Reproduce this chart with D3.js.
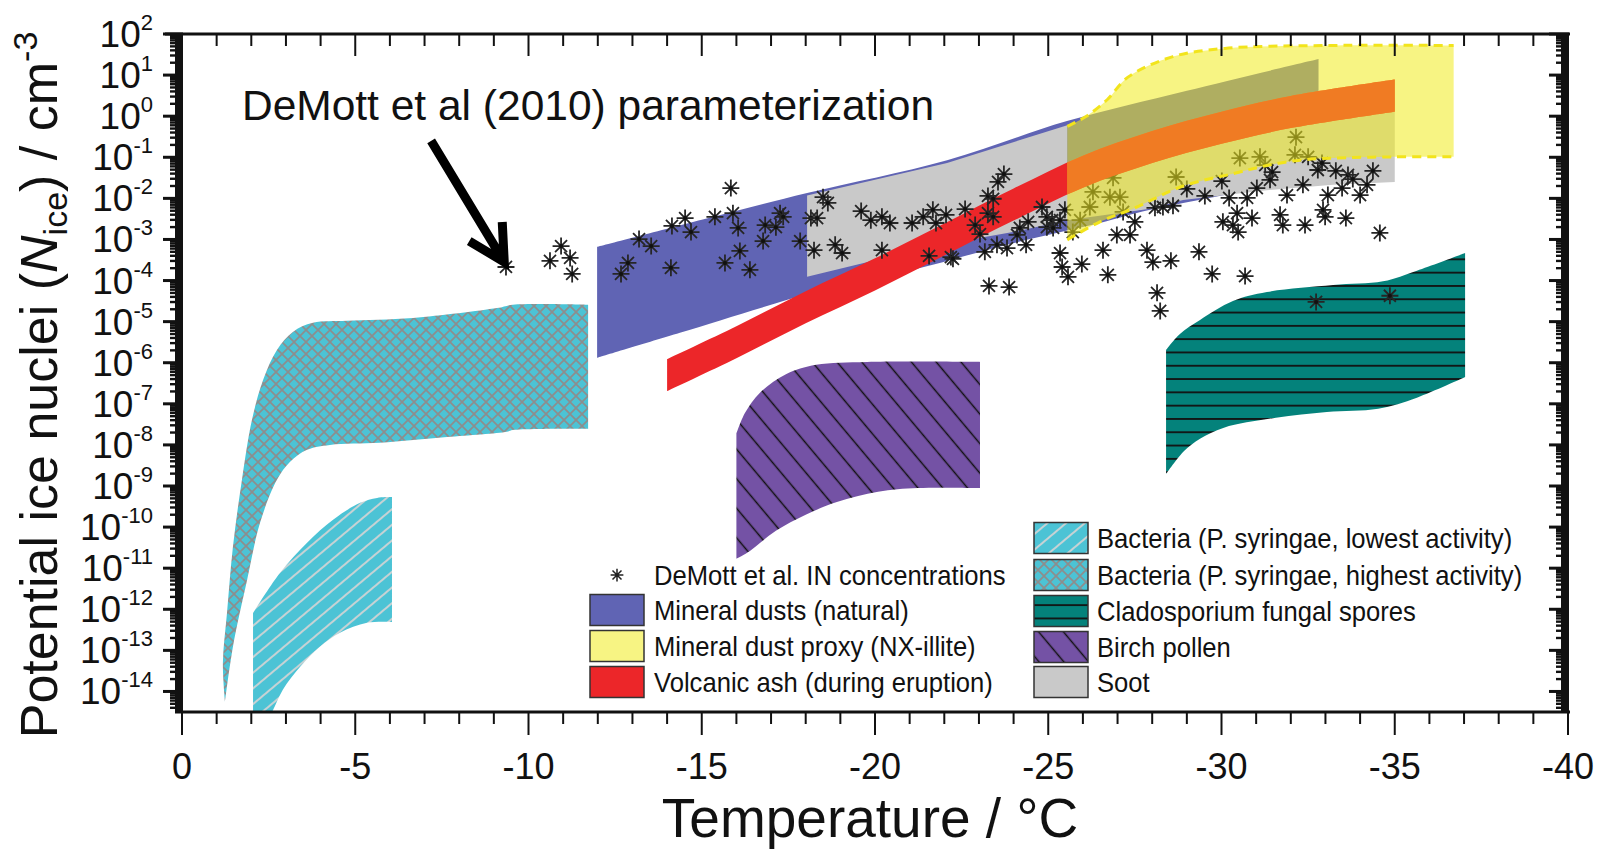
<!DOCTYPE html>
<meta charset="utf-8">
<style>
body { margin: 0; background: #fff; }
svg { font-family: "Liberation Sans", Arial, sans-serif; }
</style>
<body>
<svg width="1600" height="849"></svg>
<script src="https://d3js.org/d3.v7.min.js"></script>
<script>
// values: [temperature °C, log10(N_ice / cm^-3)]
const bactHighUpper = [[-1.24,-14.25],[-1.18,-13.3],[-1.3,-12.08],[-1.47,-10.48],[-1.73,-8.85],[-2.02,-7.39],[-2.34,-6.42],[-2.74,-5.69],[-3.2,-5.25],[-3.78,-5.03],[-4.76,-4.98],[-6.67,-4.91],[-9.09,-4.67],[-9.55,-4.59],[-11.72,-4.59]]
const bactHighLower = [[-1.24,-14.25],[-1.47,-12.91],[-1.88,-11.28],[-2.25,-9.9],[-2.74,-8.85],[-3.12,-8.41],[-3.61,-8.12],[-4.27,-8.0],[-5.71,-7.95],[-7.65,-7.81],[-9.38,-7.68],[-9.55,-7.64],[-11.72,-7.61]]
const bactLowUpper = [[-2.05,-12.09],[-2.83,-11.11],[-3.61,-10.38],[-4.36,-9.82],[-5.14,-9.41],[-5.63,-9.29],[-6.06,-9.27]]
const bactLowLower = [[-2.05,-15.3],[-2.6,-14.5],[-2.91,-13.96],[-3.41,-13.4],[-3.98,-12.91],[-4.56,-12.57],[-5.34,-12.33],[-6.06,-12.31]]
const birchUpper = [[-16.0,-7.73],[-16.25,-7.22],[-16.68,-6.73],[-17.43,-6.28],[-18.3,-6.05],[-19.77,-5.98],[-23.03,-5.98]]
const birchLower = [[-16.0,-10.77],[-16.39,-10.58],[-17.14,-10.09],[-18.0,-9.7],[-18.9,-9.39],[-20.09,-9.14],[-21.24,-9.05],[-23.03,-9.05]]
const cladoUpper = [[-28.4,-5.69],[-28.8,-5.3],[-29.38,-4.96],[-30.33,-4.5],[-31.31,-4.28],[-33.22,-4.11],[-34.66,-4.02],[-35.64,-3.76],[-37.03,-3.33]]
const cladoLower = [[-28.4,-8.71],[-28.92,-8.15],[-29.38,-7.85],[-30.07,-7.58],[-31.57,-7.34],[-33.04,-7.2],[-34.52,-7.12],[-35.64,-6.85],[-37.03,-6.35]]
const dustUpper = [[-11.98,-3.18],[-15,-2.52],[-18.04,-1.87],[-22.08,-1.07],[-25.54,-0.12],[-29,0.62],[-32.8,1.39]]
const dustLower = [[-11.98,-5.88],[-14.37,-5.27],[-18.21,-4.3],[-21.1,-3.74],[-23.98,-3.09],[-26.49,-2.6],[-27.94,-2.28],[-32.8,-1.5]]
const sootUpper = [[-18.04,-1.93],[-22.08,-1.14],[-25.55,-0.22],[-25.55,-1.5],[-28,-0.8],[-32,0.1],[-35,0.45]]
const sootLower = [[-18.04,-3.91],[-21.59,-3.18],[-23.98,-2.82],[-25.54,-2.53],[-27.94,-2.25],[-28.89,-2.04],[-31.31,-1.8],[-33.22,-1.67],[-35,-1.6]]
const ashT = [-14,-16,-18,-20,-22,-24,-26,-28,-30,-32,-35]
const ashUpper = [-5.91,-5.11,-4.26,-3.46,-2.61,-1.76,-0.96,-0.36,0.11,0.49,0.89]
const ashLower = [-6.69,-5.89,-5.04,-4.24,-3.39,-2.54,-1.74,-1.14,-0.67,-0.29,0.11]
const illiteUpper = [[-25.55,-0.25],[-26.1,0.0],[-26.7,0.4],[-27.3,0.95],[-28.6,1.45],[-30.1,1.65],[-33,1.72],[-36.7,1.72]]
const illiteLower = [[-25.55,-3.01],[-26.49,-2.57],[-27.45,-2.25],[-28.89,-1.7],[-30.33,-1.4],[-31.31,-1.2],[-32.26,-1.07],[-33.2,-1.02],[-35,-0.99],[-36.7,-0.99]]

// DeMott et al. IN concentrations
const demottT = [-9.35,-10.62,-10.94,-11.2,-11.26,-12.67,-12.87,-13.19,-13.54,-14.11,-14.14,-14.52,-14.69,-15.38,-15.84,-15.9,-16.05,-16.1,-15.67,-16.39,-16.83,-16.77,-17.14,-17.26,-17.35,-17.84,-18.15,-18.33,-18.24,-18.5,-18.64,-18.85,-19.05,-19.6,-19.88,-20.2,-20.43,-20.2,-21.07,-21.39,-21.67,-21.76,-22.05,-21.56,-22.19,-22.25,-22.6,-22.89,-23.03,-23.17,-23.26,-23.26,-23.41,-23.41,-23.55,-23.72,-23.52,-23.81,-23.29,-23.87,-24.1,-24.18,-24.42,-24.36,-24.82,-24.96,-24.96,-25.11,-25.14,-25.34,-25.48,-25.34,-25.4,-25.57,-25.97,-26.29,-26.2,-26.87,-26.78,-27.07,-25.92,-25.71,-27.16,-27.5,-26.98,-27.36,-26.58,-26.72,-27.85,-28.02,-28.54,-28.14,-28.23,-28.69,-28.08,-28.31,-28.6,-29.0,-29.35,-29.52,-30.01,-30.22,-29.73,-30.04,-30.45,-30.48,-30.33,-30.68,-30.53,-30.74,-30.88,-31.02,-31.11,-31.26,-31.46,-31.4,-31.69,-31.77,-31.89,-32.15,-32.12,-32.41,-32.35,-32.5,-32.78,-32.9,-32.93,-32.99,-33.07,-33.3,-33.48,-33.59,-33.65,-33.79,-34.0,-34.2,-34.37,-34.57,-32.73,-34.86]
const demottLogN = [-3.67,-3.52,-3.16,-3.45,-3.84,-3.84,-3.57,-2.99,-3.16,-3.69,-2.67,-2.48,-2.82,-2.45,-1.75,-2.36,-2.72,-3.28,-3.57,-3.74,-2.65,-3.04,-2.7,-2.36,-2.45,-3.04,-2.48,-2.48,-3.26,-1.97,-2.11,-3.13,-3.33,-2.31,-2.53,-2.45,-2.6,-3.26,-2.6,-2.45,-2.28,-2.6,-2.4,-3.4,-3.43,-3.47,-2.26,-2.65,-2.87,-3.3,-1.94,-2.36,-2.01,-2.45,-1.6,-1.41,-3.13,-3.21,-4.13,-4.16,-2.89,-2.72,-2.57,-3.13,-2.21,-2.45,-2.7,-2.53,-2.72,-2.53,-2.28,-3.33,-3.67,-3.91,-3.6,-1.84,-2.21,-1.5,-1.97,-1.97,-2.53,-2.82,-2.33,-2.57,-2.89,-2.89,-3.26,-3.86,-3.26,-3.55,-3.52,-4.3,-4.74,-1.48,-2.23,-2.21,-2.18,-1.77,-3.3,-1.94,-1.58,-1.99,-3.84,-2.57,-2.36,-2.82,-2.65,-3.89,-1.02,-1.99,-2.48,-1.75,-0.99,-1.19,-1.36,-1.55,-2.4,-2.65,-1.92,-0.51,-0.94,-2.65,-1.67,-0.99,-1.31,-1.14,-2.28,-2.45,-1.92,-1.33,-1.75,-2.48,-1.43,-1.53,-1.92,-1.67,-1.33,-2.84,-4.52,-4.37]

const xTicks = [0,-5,-10,-15,-20,-25,-30,-35,-40]
const yExponents = d3.range(-14, 3)

const svg = d3.select("svg")
const pL = 182, pR = 1568, pT = 34, pB = 712
const x = d3.scaleLinear().domain([0, -40]).range([pL, pR])
const y = d3.scaleLog().domain([Math.pow(10, -14.5), 100]).range([pB, pT])

const cyan = "#4cc3d5", blue = "#6064b4", grey = "#c9c9c9", red = "#ec2629",
      teal = "#04827b", purple = "#7452a5", orange = "#f07b23"

const line = (curve) => d3.line().x(d => x(d[0])).y(d => y(Math.pow(10, d[1]))).curve(curve)
function band(upper, lower, curve) {
  const a = line(curve)(upper)
  const b = line(curve)(lower.slice().reverse())
  return a + "L" + b.slice(1) + "Z"
}

// patterns
const defs = svg.append("defs")
defs.append("clipPath").attr("id", "plot")
  .append("rect").attr("x", pL).attr("y", pT).attr("width", pR - pL).attr("height", pB - pT)

const cr = d3.curveCatmullRom.alpha(0.5)
const illitePath = band(illiteUpper, illiteLower, cr)
defs.append("clipPath").attr("id", "illite").append("path").attr("d", illitePath)

const cross = defs.append("pattern").attr("id", "cross").attr("patternUnits", "userSpaceOnUse")
  .attr("width", 12).attr("height", 12)
cross.append("rect").attr("width", 12).attr("height", 12).attr("fill", cyan)
cross.append("path").attr("d", "M0,0L12,12M12,0L0,12M-1,11L1,13M11,-1L13,1")
  .attr("stroke", "#8d8d8d").attr("stroke-width", 1.7)

function stripes(id, bg, fg, gap, angle, w) {
  const p = defs.append("pattern").attr("id", id).attr("patternUnits", "userSpaceOnUse")
    .attr("width", gap).attr("height", gap).attr("patternTransform", `rotate(${angle})`)
  p.append("rect").attr("width", gap).attr("height", gap).attr("fill", bg)
  p.append("line").attr("x1", gap / 2).attr("x2", gap / 2).attr("y1", 0).attr("y2", gap)
    .attr("stroke", fg).attr("stroke-width", w)
}
stripes("slash", cyan, "#d4d4d4", 12, 50, 1.8)
stripes("back", purple, "#111", 19, -40, 1.5)
stripes("horiz", teal, "#111", 13.3, 90, 1.8)

// shapes
const g = svg.append("g").attr("clip-path", "url(#plot)")
g.append("path").attr("d", band(bactHighUpper, bactHighLower, cr)).attr("fill", "url(#cross)")
g.append("path").attr("d", band(bactLowUpper, bactLowLower, cr)).attr("fill", "url(#slash)")
g.append("path").attr("d", band(birchUpper, birchLower, cr)).attr("fill", "url(#back)")
g.append("path").attr("d", band(cladoUpper, cladoLower, cr)).attr("fill", "url(#horiz)")
g.append("path").attr("d", band(dustUpper, dustLower, cr)).attr("fill", blue)
g.append("path").attr("d", band(sootUpper, sootLower, d3.curveLinear)).attr("fill", grey)
const ashPath = band(ashT.map((t, i) => [t, ashUpper[i]]), ashT.map((t, i) => [t, ashLower[i]]), cr)
g.append("path").attr("d", ashPath).attr("fill", red)

// asterisks
const star = "M0,-8.5V8.5M-8.5,0H8.5M-6,-6L6,6M-6,6L6,-6"
const pts = g.append("g")
demottT.forEach((t, i) => {
  const s = pts.append("g").attr("transform", `translate(${x(t)},${y(Math.pow(10, demottLogN[i]))})`)
  s.append("path").attr("d", star).attr("stroke", "#262626").attr("stroke-width", 1.8).attr("fill", "none")
  s.append("circle").attr("r", 2).attr("fill", "#111")
})

// NX-illite on top, translucent; ash seen through it shows orange
g.append("path").attr("d", illitePath)
  .attr("fill", "rgb(240,235,30)").attr("fill-opacity", 0.55)
g.append("path").attr("d", ashPath).attr("fill", orange).attr("clip-path", "url(#illite)")
g.append("path").attr("d", line(cr)(illiteUpper)).attr("fill", "none")
  .attr("stroke", "#f2e41c").attr("stroke-width", 3).attr("stroke-dasharray", "9,6")
g.append("path").attr("d", line(cr)(illiteLower)).attr("fill", "none")
  .attr("stroke", "#f2e41c").attr("stroke-width", 3).attr("stroke-dasharray", "9,6")

// axes frame
const ax = svg.append("g").attr("fill", "none").attr("stroke", "#111")
const minors = []
d3.range(-15, 2).forEach(e => d3.range(2, 10).forEach(k => {
  const v = k * Math.pow(10, e)
  if (v > Math.pow(10, -14.5) && v < 100) minors.push(v)
}))
const majors = yExponents.map(e => Math.pow(10, e))
;[[175, 183], [1561, 1569]].forEach(([a, b]) => {
  svg.append("rect").attr("x", a).attr("y", pT).attr("width", b - a).attr("height", pB - pT).attr("fill", "#111")
  ax.selectAll(null).data(minors).enter().append("line")
    .attr("x1", a - 5).attr("x2", b).attr("y1", d => y(d)).attr("y2", d => y(d)).attr("stroke-width", 2.4)
  ax.selectAll(null).data(majors).enter().append("line")
    .attr("x1", a - 12).attr("x2", b).attr("y1", d => y(d)).attr("y2", d => y(d)).attr("stroke-width", 3)
})
ax.append("line").attr("x1", 165).attr("x2", 1570).attr("y1", pT).attr("y2", pT).attr("stroke-width", 3)
ax.append("line").attr("x1", 175).attr("x2", 1570).attr("y1", pB).attr("y2", pB).attr("stroke-width", 3)
const degs = d3.range(0, -41, -1)
ax.selectAll(null).data(degs).enter().append("line")
  .attr("x1", d => x(d)).attr("x2", d => x(d)).attr("y1", pT)
  .attr("y2", d => pT + (d % 5 === 0 ? 22 : 12)).attr("stroke-width", 2)
ax.selectAll(null).data(degs).enter().append("line")
  .attr("x1", d => x(d)).attr("x2", d => x(d)).attr("y1", pB)
  .attr("y2", d => pB + (d % 5 === 0 ? 23 : 12)).attr("stroke-width", 2)

// tick labels
svg.selectAll(null).data(xTicks).enter().append("text")
  .attr("x", d => x(d)).attr("y", 779).attr("text-anchor", "middle")
  .attr("font-size", 36).attr("fill", "#111").text(d => String(d))
const yl = svg.selectAll(null).data(yExponents).enter().append("text")
  .attr("x", 153).attr("y", d => y(Math.pow(10, d)) + 13).attr("text-anchor", "end").attr("fill", "#111")
yl.append("tspan").attr("font-size", 37).text("10")
yl.append("tspan").attr("font-size", 22).attr("dy", -17).text(d => String(d))

// axis titles
svg.append("text").attr("x", 870).attr("y", 837).attr("text-anchor", "middle")
  .attr("font-size", 55).attr("fill", "#111").text("Temperature / °C")
const yt = svg.append("text").attr("transform", "translate(57,385) rotate(-90)")
  .attr("text-anchor", "middle").attr("font-size", 52).attr("fill", "#111")
yt.append("tspan").text("Potential ice nuclei (")
yt.append("tspan").attr("font-style", "italic").text("N")
yt.append("tspan").attr("font-size", 34).attr("dy", 10).text("ice")
yt.append("tspan").attr("dy", -10).text(") / cm")
yt.append("tspan").attr("font-size", 34).attr("dy", -20).text("-3")

// annotation
const tail = [-7.19, -0.6], tip = [-9.3, -3.55]
svg.append("text").attr("x", x(-1.73)).attr("y", y(Math.pow(10, -0.09)))
  .attr("font-size", 42.5).attr("fill", "#111").text("DeMott et al (2010) parameterization")
const tx = x(tip[0]), ty = y(Math.pow(10, tip[1]))
svg.append("path")
  .attr("d", `M${x(tail[0])},${y(Math.pow(10, tail[1]))}L${tx},${ty}M${tx - 2},${ty - 40}L${tx},${ty}L${tx - 35},${ty - 21}`)
  .attr("fill", "none").attr("stroke", "#000").attr("stroke-width", 9).attr("stroke-linejoin", "miter")

// legend
const leg = svg.append("g").attr("fill", "#111")
function legText(lx, ly, label) {
  leg.append("text").attr("transform", `translate(${lx},${ly + 10}) scale(0.915,1)`)
    .attr("font-size", 28).text(label)
}
function swatch(sx, sy, fill, op) {
  leg.append("rect").attr("x", sx).attr("y", sy - 15.5).attr("width", 54).attr("height", 31)
    .attr("fill", fill).attr("fill-opacity", op || 1).attr("stroke", "#333").attr("stroke-width", 1.5)
}
const s0 = leg.append("g").attr("transform", "translate(617,575) scale(0.75)")
s0.append("path").attr("d", star).attr("stroke", "#222").attr("stroke-width", 2)
legText(654, 575, "DeMott et al. IN concentrations")
swatch(590, 610, blue); legText(654, 610, "Mineral dusts (natural)")
swatch(590, 646, "rgb(240,235,30)", 0.55); legText(654, 646, "Mineral dust proxy (NX-illite)")
swatch(590, 682, red); legText(654, 682, "Volcanic ash (during eruption)")
swatch(1034, 538, "url(#slash)"); legText(1097, 538, "Bacteria (P. syringae, lowest activity)")
swatch(1034, 575, "url(#cross)"); legText(1097, 575, "Bacteria (P. syringae, highest activity)")
swatch(1034, 611, "url(#horiz)"); legText(1097, 611, "Cladosporium fungal spores")
swatch(1034, 647, "url(#back)"); legText(1097, 647, "Birch pollen")
swatch(1034, 682, grey); legText(1097, 682, "Soot")
</script>
</body>
